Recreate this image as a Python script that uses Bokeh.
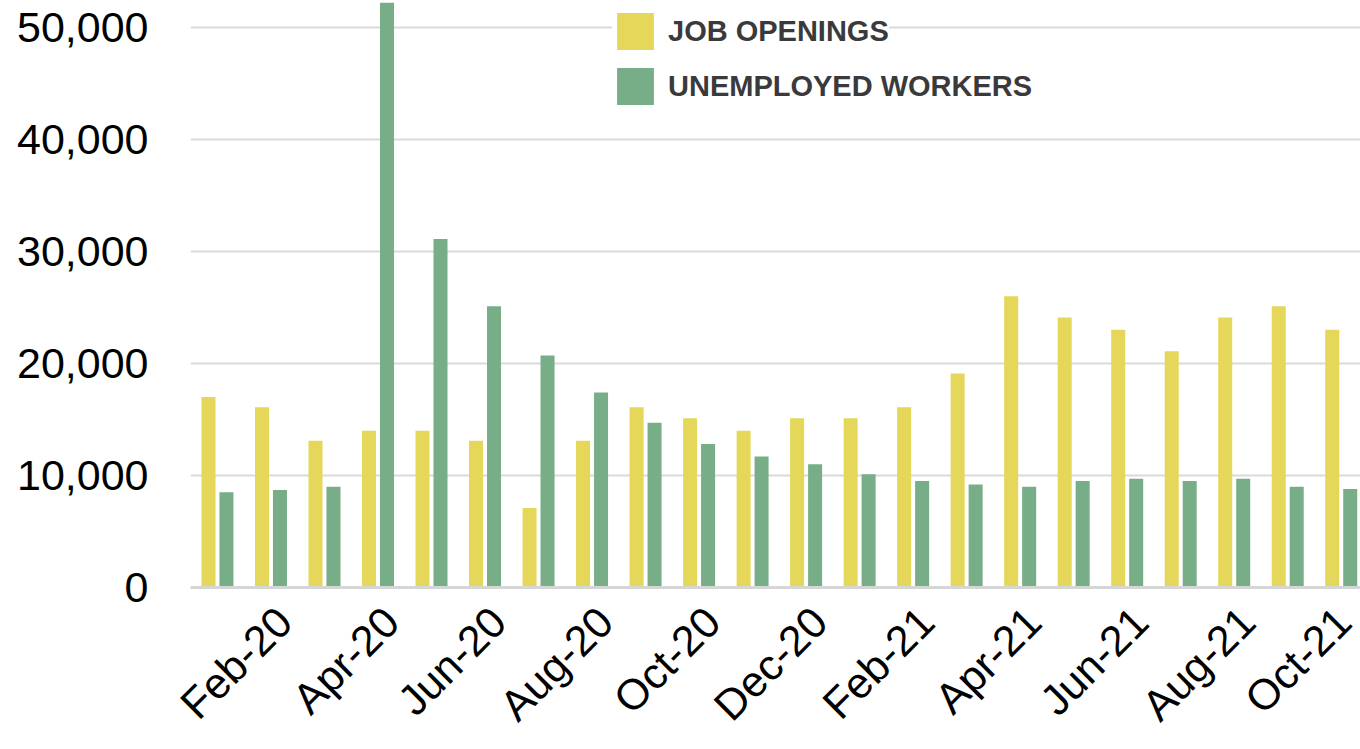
from bokeh.plotting import figure
from bokeh.models import ColumnDataSource, Legend, LegendItem, NumeralTickFormatter, FixedTicker, Range1d
from bokeh.transform import dodge
from bokeh.embed import file_html
from bokeh.resources import INLINE

months = ["Jan-20", "Feb-20", "Mar-20", "Apr-20", "May-20", "Jun-20", "Jul-20", "Aug-20",
          "Sep-20", "Oct-20", "Nov-20", "Dec-20", "Jan-21", "Feb-21", "Mar-21", "Apr-21",
          "May-21", "Jun-21", "Jul-21", "Aug-21", "Sep-21", "Oct-21"]
job_openings = [17000, 16100, 13100, 14000, 14000, 13100, 7100, 13100, 16100, 15100, 14000,
                15100, 15100, 16100, 19100, 26000, 24100, 23000, 21100, 24100, 25100, 23000]
unemployed = [8500, 8700, 9000, 52200, 31100, 25100, 20700, 17400, 14700, 12800, 11700,
              11000, 10100, 9500, 9200, 9000, 9500, 9700, 9500, 9700, 9000, 8800]
y_ticks = [0, 10000, 20000, 30000, 40000, 50000]

YELLOW = "#E5D75A"
GREEN = "#78AE87"

idx = list(range(len(months)))
src = ColumnDataSource(dict(x=idx, month=months, jobs=job_openings, unemp=unemployed))

p = figure(width=1360, height=749, output_backend="svg", toolbar_location=None,
           x_range=Range1d(-0.504, 21.36), y_range=Range1d(0, 52400),
           min_border_left=190, min_border_right=0, min_border_top=0, min_border_bottom=0)
p.outline_line_color = None
p.background_fill_color = "white"
p.border_fill_color = "white"

r1 = p.vbar(x=dodge("x", -0.168, range=p.x_range), top="jobs", width=0.262, source=src,
            fill_color=YELLOW, line_color=None)
r2 = p.vbar(x=dodge("x", 0.168, range=p.x_range), top="unemp", width=0.262, source=src,
            fill_color=GREEN, line_color=None)

# axes
odd = [i for i in idx if i % 2 == 1]
tick_pos = [i + 0.25 for i in odd]
p.xaxis.ticker = FixedTicker(ticks=tick_pos)
p.xaxis.major_label_overrides = {t: months[i] for t, i in zip(tick_pos, odd)}
p.xaxis.major_label_orientation = 0.7853981634
p.xaxis.major_label_text_font = "Liberation Sans"
p.xaxis.major_label_text_font_size = "43px"
p.xaxis.major_label_text_color = "black"
p.xaxis.major_label_standoff = 21
p.xaxis.major_tick_line_color = None
p.xaxis.minor_tick_line_color = None
p.xaxis.axis_line_color = "#D6D6D6"
p.xaxis.axis_line_width = 3

p.yaxis.ticker = FixedTicker(ticks=y_ticks)
p.yaxis.formatter = NumeralTickFormatter(format="0,0")
p.yaxis.major_label_text_font = "Liberation Sans"
p.yaxis.major_label_text_font_size = "43px"
p.yaxis.major_label_text_color = "black"
p.yaxis.major_label_standoff = 36
p.yaxis.major_tick_line_color = None
p.yaxis.minor_tick_line_color = None
p.yaxis.axis_line_color = None

p.xgrid.grid_line_color = None
p.ygrid.grid_line_color = "#DADADA"
p.ygrid.grid_line_width = 2
p.ygrid.ticker = FixedTicker(ticks=y_ticks[1:])

def make_legend(item, loc):
    lg = Legend(items=[item], location=loc, orientation="vertical",
                glyph_width=46, glyph_height=46, padding=1, margin=0,
                label_standoff=10, label_text_font="Liberation Sans",
                label_text_font_style="bold", label_text_font_size="29px",
                label_text_color="#3A3A3C", border_line_color=None,
                background_fill_color="white", background_fill_alpha=1.0)
    return lg

p.add_layout(make_legend(LegendItem(label="JOB OPENINGS", renderers=[r1]), (422, 533)), "center")
p.add_layout(make_legend(LegendItem(label="UNEMPLOYED WORKERS", renderers=[r2]), (422, 478)), "center")

open("out.html", "w").write(file_html(p, INLINE))
